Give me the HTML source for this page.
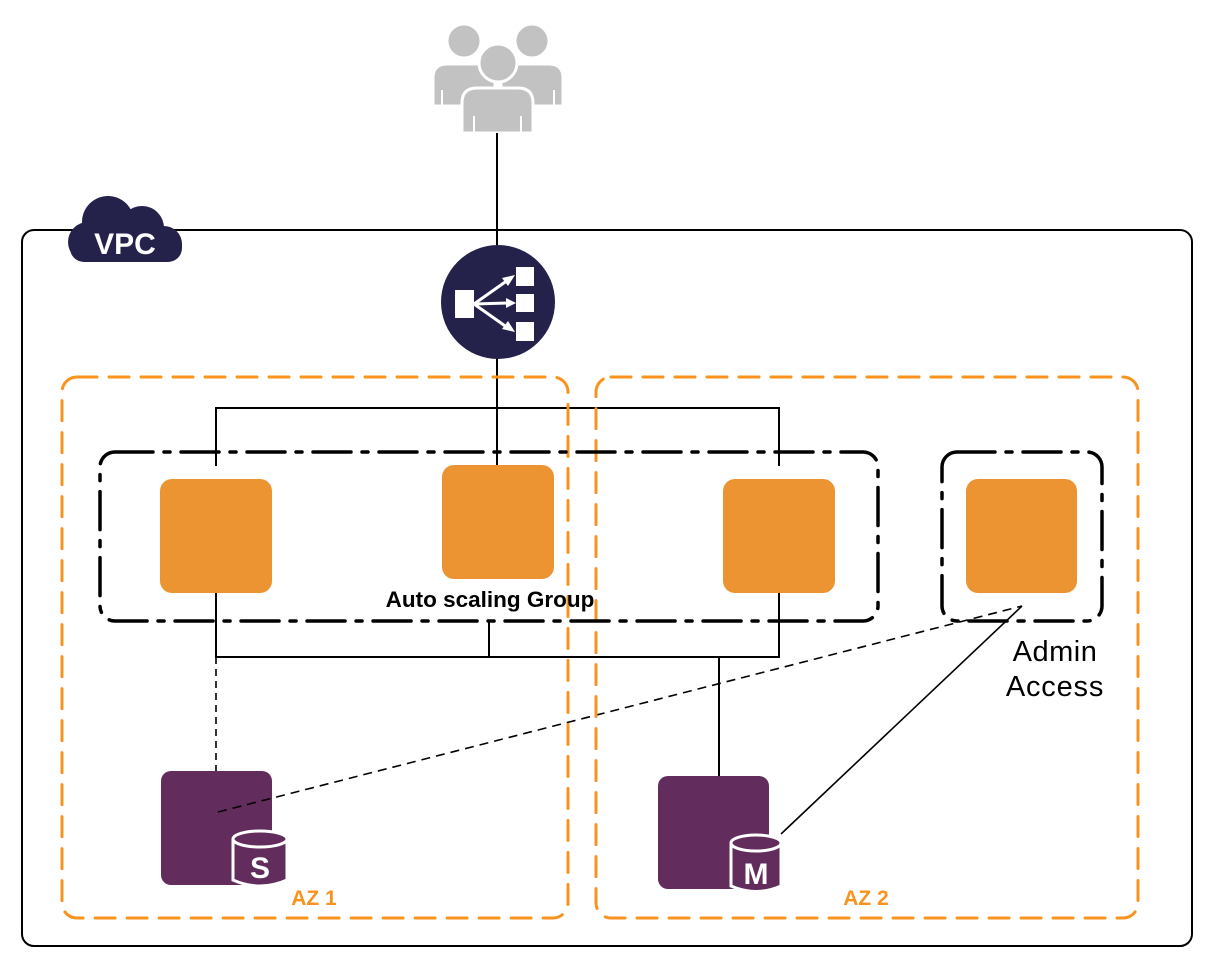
<!DOCTYPE html>
<html><head><meta charset="utf-8"><style>
html,body{margin:0;padding:0;background:#fff;}
svg{display:block;}
text{font-family:"Liberation Sans",Arial,sans-serif;}
</style></head><body>
<svg width="1214" height="970" viewBox="0 0 1214 970" xmlns="http://www.w3.org/2000/svg">
<!-- VPC box -->
<rect x="22" y="230" width="1170" height="716" rx="12" fill="none" stroke="#000" stroke-width="2"/>
<!-- VPC cloud -->
<g fill="#24224a">
<circle cx="108" cy="222" r="26"/>
<circle cx="142" cy="228" r="22"/>
<circle cx="88" cy="242" r="20"/>
<circle cx="164" cy="244" r="18"/>
<rect x="70" y="232" width="112" height="30" rx="14"/>
</g>
<text x="125" y="254" font-size="30" font-weight="bold" fill="#fff" text-anchor="middle" style="font-family:'Liberation Sans Narrow','Liberation Sans',sans-serif">VPC</text>
<!-- Users -->
<g fill="#c1c2c1" stroke="#fff" stroke-width="3">
<circle cx="464" cy="41" r="17"/>
<circle cx="532" cy="41" r="17"/>
<path d="M433 106 V78 Q433 64 447 64 H481 Q495 64 495 78 V106 Z"/>
<path d="M501 106 V78 Q501 64 515 64 H549 Q563 64 563 78 V106 Z"/>
<path d="M462 133 V103 Q462 88 477 88 H518 Q533 88 533 103 V133 Z"/>
<circle cx="498" cy="63" r="19"/>
</g>
<g stroke="#fff" stroke-width="2"><line x1="442" y1="90" x2="442" y2="106"/><line x1="554" y1="90" x2="554" y2="106"/><line x1="474" y1="116" x2="474" y2="133"/><line x1="521" y1="116" x2="521" y2="133"/></g>
<!-- RDS boxes -->
<rect x="161" y="771" width="111" height="114" rx="10" fill="#622c5c"/>
<rect x="658" y="776" width="111" height="113" rx="10" fill="#622c5c"/>
<!-- lines -->
<g stroke="#000" stroke-width="2" fill="none">
<line x1="497" y1="133" x2="497" y2="250"/>
<line x1="497" y1="355" x2="497" y2="466"/>
<polyline points="216,466 216,408 779,408 779,466"/>
<polyline points="216,592 216,657 779,657 779,592"/>
<line x1="489" y1="622" x2="489" y2="657"/>
<line x1="719" y1="657" x2="719" y2="776"/>
<line x1="781" y1="834" x2="1022" y2="606" stroke-width="1.6"/>
<line x1="216" y1="657" x2="216" y2="771" stroke-dasharray="7,5" stroke-width="1.6"/>
<line x1="218" y1="812" x2="1022" y2="606" stroke-dasharray="9,6" stroke-width="1.6"/>
</g>
<!-- ELB -->
<circle cx="498" cy="302" r="57" fill="#24224a"/>
<g fill="#fff">
<rect x="455" y="290" width="19" height="28"/>
<rect x="516" y="267" width="18" height="19"/>
<rect x="516" y="294" width="18" height="18"/>
<rect x="516" y="322" width="18" height="19"/>
</g>
<g stroke="#fff" stroke-width="3"><line x1="474" y1="304" x2="508" y2="280"/><line x1="474" y1="304" x2="508" y2="303"/><line x1="474" y1="304" x2="508" y2="328"/></g>
<g fill="#fff"><polygon points="515,275 502,278 508,286"/><polygon points="516,303 506,298 506,308"/><polygon points="515,332 502,329 508,321"/></g>
<!-- AZ boxes -->
<g fill="none" stroke="#f7931e" stroke-width="3" stroke-dasharray="20,12" stroke-linecap="round">
<rect x="62" y="377" width="506" height="541" rx="15"/>
<rect x="596" y="377" width="542" height="541" rx="15"/>
</g>
<!-- ASG -->
<g fill="none" stroke="#000" stroke-width="3.5" stroke-dasharray="38,11,6,11" stroke-linecap="round">
<rect x="100" y="452" width="778" height="169" rx="15"/>
<rect x="942" y="452" width="160" height="169" rx="15"/>
</g>
<!-- instances -->
<g fill="#ec9332">
<rect x="160" y="479" width="112" height="114" rx="12"/>
<rect x="442" y="465" width="112" height="114" rx="12"/>
<rect x="723" y="479" width="112" height="114" rx="12"/>
<rect x="966" y="479" width="111" height="114" rx="12"/>
</g>
<text x="490" y="607" font-size="22.5" font-weight="bold" text-anchor="middle">Auto scaling Group</text>
<text x="1055" y="661" font-size="29" text-anchor="middle" letter-spacing="0.5">Admin</text>
<text x="1055" y="696" font-size="29" text-anchor="middle" letter-spacing="0.8">Access</text>
<!-- cylinders -->
<g fill="#622c5c" stroke="#fff" stroke-width="3">
<path d="M233 839 V880 Q260 892 287 880 V839"/>
<ellipse cx="260" cy="839" rx="27" ry="8"/>
<path d="M731 843 V886 Q756 897 781 886 V843"/>
<ellipse cx="756" cy="843" rx="25" ry="8"/>
</g>
<text x="260" y="878" font-size="30" font-weight="bold" fill="#fff" text-anchor="middle" style="font-family:'Liberation Sans Narrow','Liberation Sans',sans-serif">S</text>
<text x="756" y="884" font-size="30" font-weight="bold" fill="#fff" text-anchor="middle" style="font-family:'Liberation Sans Narrow','Liberation Sans',sans-serif">M</text>
<text x="314" y="905" font-size="21" font-weight="bold" fill="#f7931e" text-anchor="middle">AZ 1</text>
<text x="866" y="905" font-size="21" font-weight="bold" fill="#f7931e" text-anchor="middle">AZ 2</text>
</svg>
</body></html>
